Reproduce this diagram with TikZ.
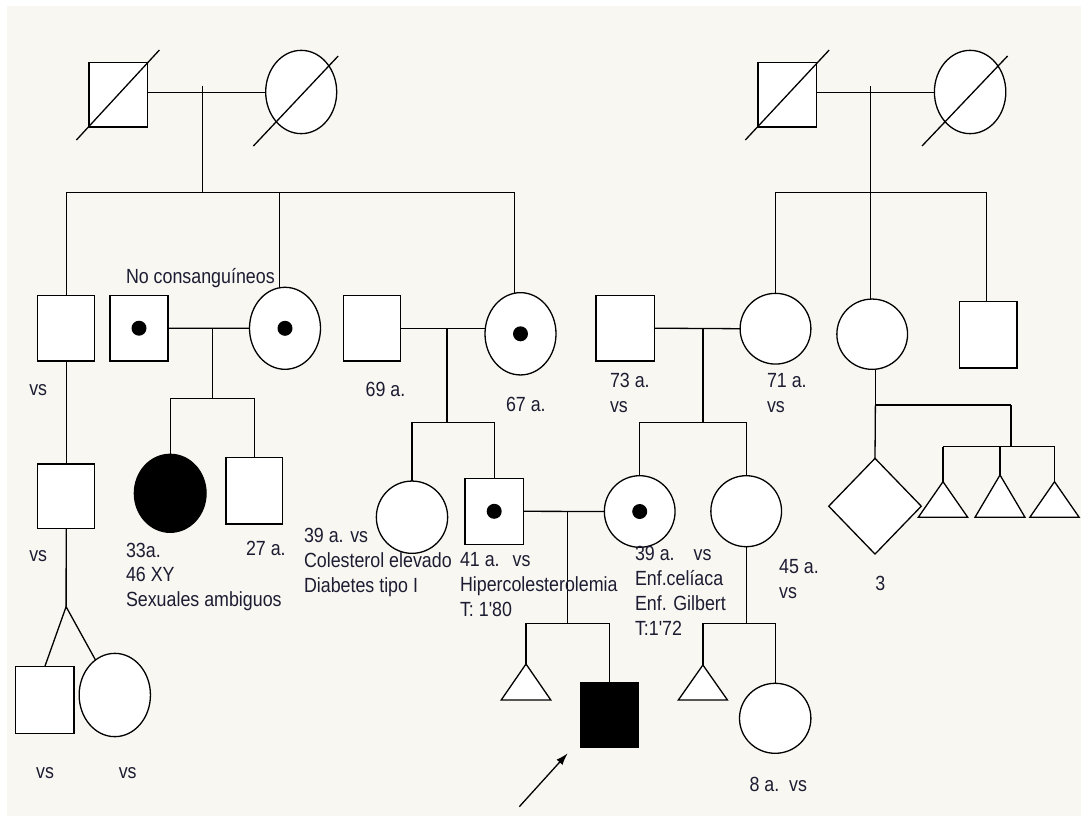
\documentclass[tikz,border=0pt]{standalone}
\usepackage{fontspec}
\newfontfamily\lblfont{Liberation Sans}[FakeStretch=0.87]
\usetikzlibrary{shapes.geometric,arrows.meta,calc}
\definecolor{bg}{RGB}{249,247,241}
\definecolor{txt}{RGB}{28,28,50}
\newcommand\mylns[2]{\vtop{\baselineskip=#1pt\lineskiplimit=-30pt\lineskip=0pt #2}}
\tikzset{
  ln/.style={line width=1.3pt, draw=black},
  ind/.style={draw=black, fill=white, line width=1.3pt, inner sep=0pt, outer sep=0pt},
  male/.style={ind, rectangle},
  female/.style={ind, ellipse},
  unk/.style={ind, diamond},
  preg/.style={ind, isosceles triangle, shape border rotate=90, isosceles triangle stretches},
  aff/.style={fill=black},
  lbl/.style={anchor=base west, inner sep=0pt, outer sep=0pt, text=txt, font=\lblfont\fontsize{20.5}{25}\selectfont}
}
\begin{document}
\begin{tikzpicture}[x=1pt,y=-1pt]
\useasboundingbox (0,0) rectangle (1081,816);
\fill[white] (0,0) rectangle (1081,816);
\fill[bg] (6.5,6) rectangle (1081,816);

% ---------- Generation I ----------
\node[male, minimum width=58.3pt, minimum height=64.7pt] (gf1) at (118.2,94.7) {};
\node[female, minimum width=71pt, minimum height=83.3pt] (gm1) at (301.2,92) {};
\node[male, minimum width=58.4pt, minimum height=64.7pt] (gf2) at (787.2,94.7) {};
\node[female, minimum width=71.4pt, minimum height=83.3pt] (gm2) at (970.1,92) {};

\draw[ln] ($(gf1.center)+(-41.8,45.3)$) -- ($(gf1.center)+(41.2,-44.7)$);
\draw[ln] ($(gm1.center)+(-47.8,54)$) -- ($(gm1.center)+(37,-36)$);
\draw[ln] ($(gf2.center)+(-41.9,45.3)$) -- ($(gf2.center)+(42,-44.7)$);
\draw[ln] ($(gm2.center)+(-48.1,54)$) -- ($(gm2.center)+(37.5,-36)$);

\coordinate (m1) at (202.7,92.7);
\coordinate (m1t) at (202.7,85.7);
\coordinate (s1) at (202.7,192.7);
\draw[ln] (gf1.east |- m1) -- (gm1.west |- m1);
\draw[ln] (m1t) -- (s1);

\coordinate (m2) at (870.2,92.7);
\coordinate (m2t) at (870.2,86);
\coordinate (s2) at (870.2,192.3);
\draw[ln] (gf2.east |- m2) -- (gm2.west |- m2);

% ---------- Generation II ----------
\node[male, minimum width=57pt, minimum height=65.7pt] (u1) at (66.2,328.2) {};
\node[male, minimum width=58pt, minimum height=65.7pt] (sp1) at (139,328.2) {};
\node[female, minimum width=71pt, minimum height=82pt] (a1) at (285,328.3) {};
\node[male, minimum width=57.2pt, minimum height=65.7pt] (h2) at (371.9,328.2) {};
\node[female, minimum width=71pt, minimum height=82.3pt] (a2) at (520.5,333.8) {};
\node[male, minimum width=58.7pt, minimum height=65.7pt] (h3) at (625.2,328.2) {};
\node[female, minimum width=70.8pt, minimum height=70.7pt] (a3) at (775.5,328.7) {};
\node[female, minimum width=70.7pt, minimum height=70.3pt] (a4) at (872.2,334.2) {};
\node[male, minimum width=57.3pt, minimum height=66.3pt] (a5) at (988.2,334.8) {};

\fill (sp1.center) circle (7.5pt);
\fill (a1.center) circle (7.5pt);
\fill (a2.center) circle (7.5pt);

% left sibship
\coordinate (s1l) at (u1.north |- s1);
\coordinate (s1b) at (279.5,192.7);
\coordinate (s1r) at (514.8,192.7);
\draw[ln] (s1l) -- (s1r);
\draw[ln] (s1l) -- (u1.north);
\draw[ln] (s1b) -- (s1b |- a1.north);
\draw[ln] (s1r) -- (s1r |- a2.north);

% right sibship
\coordinate (s2l) at (a3.north |- s2);
\coordinate (s2r) at (986.2,192.3);
\draw[ln] (m2t) -- (m2t |- a4.north);
\draw[ln] (s2l) -- (s2r);
\draw[ln] (s2l) -- (a3.north);
\draw[ln] (s2r) -- (s2r |- a5.north);

% marriages gen II
\draw[ln] (sp1.east) -- (a1.west);
\draw[ln] (h2.east) -- (a2.west |- h2.east);
\draw[ln] (h3.east) -- (a3.west);

% ---------- Generation III ----------
\node[male, minimum width=57pt, minimum height=64.3pt] (u2) at (66.2,496.2) {};
\node[female, aff, minimum width=71.7pt, minimum height=78pt] (p1) at (170.2,493.3) {};
\node[male, minimum width=56.7pt, minimum height=66.3pt] (p2) at (254.3,490.8) {};
\node[female, minimum width=71.3pt, minimum height=72.3pt] (c3) at (412,517.2) {};
\node[male, minimum width=58.3pt, minimum height=66pt] (c4) at (494.2,511.3) {};
\node[female, minimum width=70.7pt, minimum height=71.6pt] (c5) at (639.7,511.5) {};
\node[female, minimum width=70.7pt, minimum height=71pt] (c6) at (746.2,511.2) {};
\node[unk, minimum width=92.5pt, minimum height=95.7pt] (dm) at (875,506.2) {};
\node[preg, minimum width=49.4pt, minimum height=35.6pt, anchor=apex] (t1) at (943,481.7) {};
\node[preg, minimum width=50pt, minimum height=42.3pt, anchor=apex] (t2) at (1000,475) {};
\node[preg, minimum width=49.3pt, minimum height=35.6pt, anchor=apex] (t3) at (1054.5,481.7) {};

\fill (c4.center) circle (7.5pt);
\fill (c5.center) circle (7.5pt);

\draw[ln] (u1.south) -- (u2.north);

\coordinate (k1) at (212.3,328.3);
\coordinate (k1s) at (212.3,398.3);
\draw[ln] (k1) -- (k1s);
\draw[ln] (p1.north |- k1s) -- (p2.north |- k1s);
\draw[ln] (p1.north |- k1s) -- (p1.north);
\draw[ln] (p2.north |- k1s) -- (p2.north);

\coordinate (k2) at (447,328.3);
\coordinate (k2s) at (447,422.3);
\draw[ln] (k2) -- (k2s);
\draw[ln] (c3.north |- k2s) -- (c4.north |- k2s);
\draw[ln] (c3.north |- k2s) -- (c3.north);
\draw[ln] (c4.north |- k2s) -- (c4.north);

\coordinate (k3) at (702.9,328.3);
\coordinate (k3s) at (702.9,422.3);
\draw[ln] (k3) -- (k3s);
\draw[ln] (c5.north |- k3s) -- (c6.north |- k3s);
\draw[ln] (c5.north |- k3s) -- (c5.north);
\draw[ln] (c6.north |- k3s) -- (c6.north);

\coordinate (g4) at (875.4,405);
\coordinate (g5) at (1011,405);
\coordinate (g5s) at (1011,446.7);
\draw[ln] (g4 |- a4.south) -- (g4);
\draw[ln] (g4) -- (g5);
\draw[ln] (g4) -- (dm.north);
\draw[ln] (g5) -- (g5s);
\draw[ln] (t1.apex |- g5s) -- (t3.apex |- g5s);
\draw[ln] (t1.apex |- g5s) -- (t1.apex);
\draw[ln] (t2.apex |- g5s) -- (t2.apex);
\draw[ln] (t3.apex |- g5s) -- (t3.apex);

% marriage gen III
\draw[ln] (c4.east) -- (c5.west);

% ---------- Generation IV ----------
\coordinate (tw) at (66.1,606.7);
\node[male, minimum width=58.5pt, minimum height=66.7pt] (c1) at (44.8,700) {};
\node[female, minimum width=71.3pt, minimum height=83.3pt] (c2) at (114.8,695) {};
\draw[ln] (u2.south) -- (tw);
\draw[ln] (c1.north) -- (tw) -- (c2);

\node[preg, minimum width=49.6pt, minimum height=36pt, anchor=apex] (d1) at (526,664) {};
\node[male, aff, minimum width=57.3pt, minimum height=64.6pt] (d2) at (609.6,715) {};
\coordinate (k4) at (567.3,511.5);
\coordinate (k4s) at (567.3,623.3);
\draw[ln] (k4) -- (k4s);
\draw[ln] (d1.apex |- k4s) -- (d2.north |- k4s);
\draw[ln] (d1.apex |- k4s) -- (d1.apex);
\draw[ln] (d2.north |- k4s) -- (d2.north);

\node[preg, minimum width=49.1pt, minimum height=35pt, anchor=apex] (d3) at (702.9,665) {};
\node[female, minimum width=71.4pt, minimum height=70pt] (d4) at (775.2,718.3) {};
\coordinate (k5s) at (746.2,623.3);
\draw[ln] (c6.south) -- (k5s);
\draw[ln] (d3.apex |- k5s) -- (d4.north |- k5s);
\draw[ln] (d3.apex |- k5s) -- (d3.apex);
\draw[ln] (d4.north |- k5s) -- (d4.north);

% proband arrow
\coordinate (arT) at (519.3,806.7);
\coordinate (arH) at ($(d2.south west)+(-13.3,6)$);
\draw[ln, -{Latex[length=12pt,width=8pt]}] (arT) -- (arH);

% ---------- Labels ----------
\node[lbl] (l1) at (126,283.5) {No consanguíneos};
\node[lbl] (l2) at (29.3,395) {vs};
\node[lbl] (l3) at (365.7,396.7) {69 a.};
\node[lbl] (l4) at (506,411.7) {67 a.};
\node[lbl] (l5) at (610,387.3) {\mylns{25}{\hbox{73 a.}\hbox{vs}}};
\node[lbl] (l6) at (767,387.3) {\mylns{25}{\hbox{71 a.}\hbox{vs}}};
\node[lbl] (l7) at (29.3,561) {vs};
\node[lbl] (l8) at (36.2,778.3) {vs};
\node[lbl] (l9) at (118.8,778.3) {vs};
\node[lbl] (l10) at (126,557.3) {\mylns{24.4}{\hbox{33a.}\hbox{46 XY}\hbox{Sexuales ambiguos}}};
\node[lbl] (l11) at (246,555.7) {27 a.};
\node[lbl] (l12) at (304,542.7) {\mylns{25}{\hbox{39 a. vs}\hbox{Colesterol elevado}\hbox{Diabetes tipo I}}};
\node[lbl] (l13) at (460,566.5) {\mylns{25}{\hbox{41 a.\hspace{13pt}vs}\hbox{Hipercolesterolemia}\hbox{T: 1'80}}};
\node[lbl] (l14) at (635,560) {\mylns{25}{\hbox{39 a.\hspace{19pt}vs}\hbox{Enf.celíaca}\hbox{Enf. Gilbert}\hbox{T:1'72}}};
\node[lbl] (l15) at (779.1,573.3) {\mylns{25}{\hbox{45 a.}\hbox{vs}}};
\node[lbl] (l16) at (875.4,590) {3};
\node[lbl] (l17) at (749.5,791.7) {8 a.\hspace{10pt}vs};
\end{tikzpicture}
\end{document}
